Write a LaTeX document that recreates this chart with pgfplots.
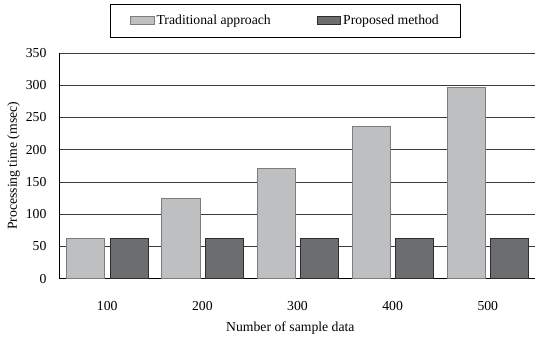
\documentclass[border=0pt]{standalone}
\usepackage{pgfplots}
\pgfplotsset{compat=1.18}
\usepackage{fontspec}
\setmainfont{Liberation Serif}
\definecolor{tradfill}{RGB}{190,191,193}
\definecolor{tradedge}{RGB}{125,125,127}
\definecolor{propfill}{RGB}{108,109,111}
\definecolor{propedge}{RGB}{45,45,47}
\definecolor{gridc}{RGB}{60,60,60}
\begin{document}
\begin{tikzpicture}
\begin{axis}[
  name=main,
  at={(0,0)}, anchor=south west,
  scale only axis,
  width=478.4bp, height=227bp,
  font=\fontsize{13.8bp}{16bp}\selectfont,
  /pgf/number format/assume math mode=true,
  xmin=-0.5, xmax=4.5,
  ymin=0, ymax=350,
  ytick={0,50,...,350},
  xtick={0,1,2,3,4},
  xticklabels={100,200,300,400,500},
  xtick style={draw=none},
  ytick style={draw=none},
  extra x ticks={0.5,1.5,2.5,3.5},
  extra x tick labels={},
  extra x tick style={tick style={draw=black, line width=0.8bp}, major tick length=4bp, tick align=inside},
  axis x line=bottom, axis y line=left,
  axis line style={-, line width=1.3bp, black},
  ymajorgrids,
  grid style={gridc, line width=0.9bp},
  yticklabel style={inner sep=0pt, anchor=east, xshift=-11bp},
  xticklabel style={inner sep=0pt, anchor=north, yshift=-18.5bp},
  xlabel={Number of sample data},
  ylabel={Processing time (msec)},
  xlabel style={at={(axis description cs:0.485,-0.22)}, anchor=center, inner sep=0pt},
  ylabel style={at={(axis description cs:-0.097,0.5)}, rotate=0, anchor=center, inner sep=0pt},
  ybar, bar width=0.4,
  legend columns=2,
  legend style={at={(axis description cs:0.4745,1.1445)}, anchor=center,
    draw=black, line width=0.6bp, inner xsep=20bp, inner ysep=9bp,
    /tikz/every even column/.append style={column sep=44bp},
    font=\fontsize{13.8bp}{16bp}\selectfont},
  legend image code/.code={\draw[#1, line width=0.8bp] (0bp,-4bp) rectangle (24bp,4bp);},
]
\addplot[fill=tradfill, draw=tradedge, line width=0.9bp, bar shift=-0.225] coordinates {(0,62.5) (1,125) (2,171.5) (3,235.5) (4,297)};
\addplot[fill=propfill, draw=propedge, line width=0.9bp, bar shift=0.23] coordinates {(0,62) (1,62) (2,62) (3,62) (4,62)};
\legend{Traditional approach, Proposed method}
\end{axis}
\useasboundingbox (-60bp,-59.7bp) rectangle (476bp,280.3bp);
\end{tikzpicture}
\end{document}
